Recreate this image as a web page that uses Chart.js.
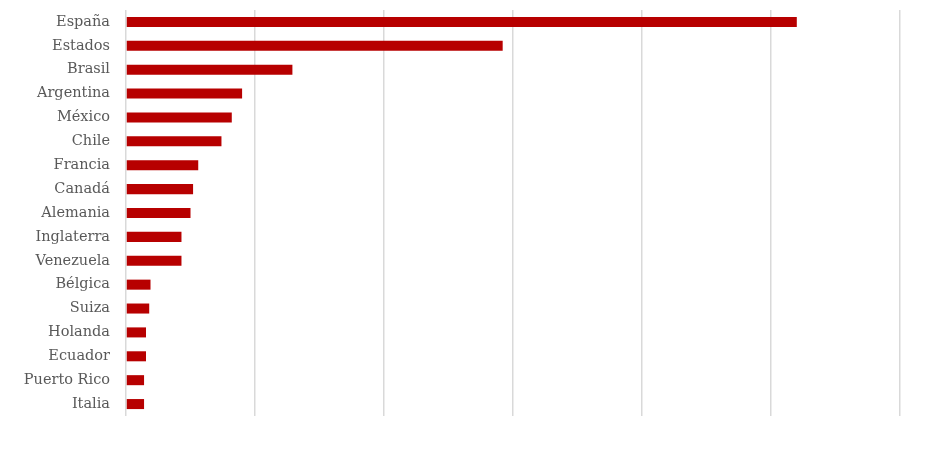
<!DOCTYPE html>
<html>
<head>
<meta charset="utf-8">
<script src="https://cdn.jsdelivr.net/npm/chart.js@4/dist/chart.umd.min.js"></script>
<style>
  html, body { margin: 0; padding: 0; background: #fff; }
  #wrap { width: 941px; height: 458px; }
</style>
</head>
<body>
<div id="wrap"><canvas id="chart-bar1"></canvas></div>
<script>
// countries, top to bottom
const paises = ['España', 'Estados', 'Brasil', 'Argentina', 'México', 'Chile', 'Francia', 'Canadá',
  'Alemania', 'Inglaterra', 'Venezuela', 'Bélgica', 'Suiza', 'Holanda', 'Ecuador', 'Puerto Rico', 'Italia'];
// values (axis has no labels, units of one gridline)
const valores = [5.20, 2.92, 1.29, 0.90, 0.82, 0.74, 0.56, 0.52,
  0.50, 0.43, 0.43, 0.19, 0.18, 0.155, 0.155, 0.14, 0.14];
const ejeMax = 6;
const ejePaso = 1;

let container = document.getElementById('chart-bar1');
let graph = new Chart(container, {
    type: 'bar',
    data: {
        labels: paises,
        datasets: [{
            data: valores,
            backgroundColor: '#b70000',
            categoryPercentage: 1,
            barPercentage: 0.42
        }]
    },
    options: {
        indexAxis: 'y',
        responsive: true,
        maintainAspectRatio: false,
        animation: false,
        layout: {
            padding: {top: 10, right: 41, bottom: 42, left: 0}
        },
        plugins: {
            legend: {display: false},
            tooltip: {enabled: false}
        },
        scales: {
            x: {
                min: 0,
                max: ejeMax,
                ticks: {display: false, stepSize: ejePaso},
                grid: {color: '#d9d9d9', lineWidth: 1.5, drawTicks: false},
                border: {display: false},
                afterFit: function(axis) { axis.height = 0; }
            },
            y: {
                ticks: {
                    color: '#595959',
                    padding: 16,
                    font: {family: 'DejaVu Serif', size: 14.5}
                },
                grid: {display: false, drawTicks: false},
                border: {display: false},
                afterFit: function(axis) {
                    axis.width = 126;
                    axis.paddingTop = 0;
                    axis.paddingBottom = 0;
                }
            }
        }
    }
});
</script>
</body>
</html>
